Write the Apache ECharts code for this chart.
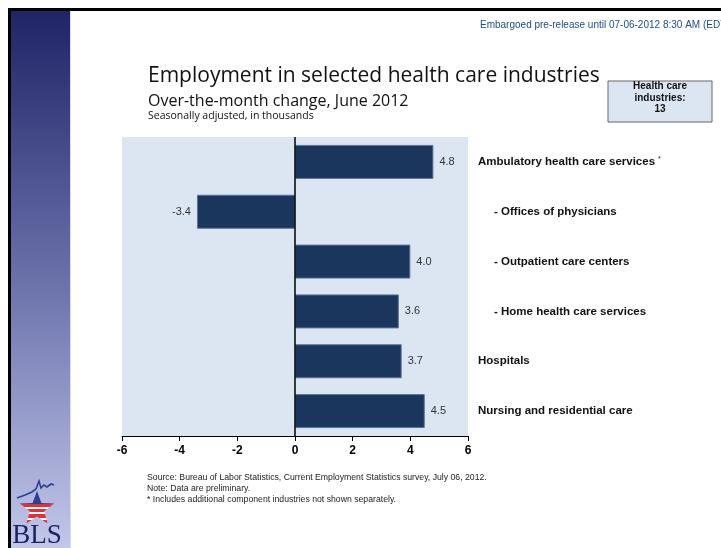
<!DOCTYPE html>
<html>
<head>
<meta charset="utf-8">
<script src="https://cdn.jsdelivr.net/npm/echarts@6/dist/echarts.min.js"></script>
<style>
html, body { margin: 0; padding: 0; background: #fff; }
#chart { width: 721px; height: 548px; }
</style>
</head>
<body>
<div id="chart"></div>
<script>
// categories, top to bottom
const categories = [
    'Ambulatory health care services',
    '- Offices of physicians',
    '- Outpatient care centers',
    '- Home health care services',
    'Hospitals',
    'Nursing and residential care'
]
const indented = [false, true, true, true, false, false]
const footnoted = [true, false, false, false, false, false]
// over-the-month change, thousands
const changes = [4.8, -3.4, 4.0, 3.6, 3.7, 4.5]
const xTicks = [-6, -4, -2, 0, 2, 4, 6]

const chart = echarts.init(document.getElementById('chart'))

// star for the logo
function starPoints (cx, cy, ro, ri) {
    const pts = []
    for (let i = 0; i < 10; i++) {
        const a = -Math.PI / 2 + i * Math.PI / 5
        const r = i % 2 === 0 ? ro : ri
        pts.push([cx + r * Math.cos(a), cy + r * Math.sin(a)])
    }
    return pts
}

const stripeStops = [
    { offset: 0, color: '#2b3f94' }, { offset: 0.4, color: '#2b3f94' },
    { offset: 0.4, color: '#e0303a' }, { offset: 0.5, color: '#e0303a' },
    { offset: 0.5, color: '#ffffff' }, { offset: 0.56, color: '#ffffff' },
    { offset: 0.56, color: '#e0303a' }, { offset: 0.66, color: '#e0303a' },
    { offset: 0.66, color: '#ffffff' }, { offset: 0.72, color: '#ffffff' },
    { offset: 0.72, color: '#e0303a' }, { offset: 0.82, color: '#e0303a' },
    { offset: 0.82, color: '#ffffff' }, { offset: 0.88, color: '#ffffff' },
    { offset: 0.88, color: '#e0303a' }, { offset: 1, color: '#e0303a' }
]

const labelFont = 'Liberation Sans, Arial, sans-serif'

const option = {
    animation: false,
    grid: {
        left: 122,
        right: 253,
        top: 137,
        bottom: 112,
        show: true,
        backgroundColor: '#dce6f2',
        borderWidth: 0
    },
    xAxis: {
        type: 'value',
        min: xTicks[0],
        max: xTicks[xTicks.length - 1],
        interval: 2,
        splitLine: { show: false },
        axisLine: { show: true, onZero: false, lineStyle: { color: '#000', width: 1 } },
        axisTick: { show: true, inside: false, length: 5, lineStyle: { color: '#000' } },
        axisLabel: {
            color: '#000',
            fontWeight: 'bold',
            fontSize: 12,
            fontFamily: labelFont,
            margin: 9
        }
    },
    yAxis: {
        type: 'category',
        inverse: true,
        position: 'right',
        data: categories,
        axisLine: { show: false },
        axisTick: { show: false },
        splitLine: { show: false },
        axisLabel: {
            margin: 10,
            align: 'left',
            formatter: function (value, idx) {
                let s = indented[idx] ? '{ind|' + value + '}' : '{b|' + value + '}'
                if (footnoted[idx]) s += '{sup|*}'
                return s
            },
            rich: {
                b: { fontWeight: 'bold', fontSize: 11.5, color: '#111', fontFamily: labelFont },
                ind: { fontWeight: 'bold', fontSize: 11.5, color: '#111', fontFamily: labelFont, padding: [0, 0, 0, 16] },
                sup: { fontSize: 7, color: '#111', verticalAlign: 'top', padding: [0, 0, 6, 3] }
            }
        }
    },
    series: [
        {
            type: 'bar',
            barWidth: 34,
            data: changes.map(v => ({
                value: v,
                label: { position: v < 0 ? 'left' : 'right' }
            })),
            itemStyle: { color: '#1b365d', borderColor: '#5b7399', borderWidth: 1 },
            label: {
                show: true,
                distance: 6,
                color: '#333',
                fontSize: 11,
                fontFamily: labelFont,
                formatter: p => p.value.toFixed(1)
            },
            markLine: {
                silent: true,
                symbol: 'none',
                label: { show: false },
                lineStyle: { color: '#000', width: 1.5, type: 'solid' },
                data: [{ xAxis: 0 }]
            }
        }
    ],
    graphic: [
        // frame
        { type: 'rect', shape: { x: 8, y: 8, width: 713, height: 3 }, style: { fill: '#000' } },
        { type: 'rect', shape: { x: 8, y: 8, width: 3, height: 540 }, style: { fill: '#000' } },
        // sidebar
        {
            type: 'rect',
            shape: { x: 11, y: 11, width: 59, height: 537 },
            style: {
                fill: new echarts.graphic.LinearGradient(0, 0, 0, 1, [
                    { offset: 0, color: '#1e2466' },
                    { offset: 0.5, color: '#6a71aa' },
                    { offset: 1, color: '#c3c7ea' }
                ])
            }
        },
        { type: 'rect', shape: { x: 70, y: 11, width: 1, height: 537 }, style: { fill: '#d8dcf0' } },
        // logo
        {
            type: 'polyline',
            shape: { points: [[17, 498], [25, 495], [32, 492], [36, 489], [39, 481], [41, 488], [44, 485], [47, 487], [51, 484], [54, 485]] },
            style: { stroke: '#2b3f94', lineWidth: 1.6, fill: null }
        },
        {
            type: 'polygon',
            shape: { points: starPoints(37, 509, 18, 7.5) },
            style: { fill: new echarts.graphic.LinearGradient(0, 0, 0, 1, stripeStops) }
        },
        {
            type: 'text',
            style: {
                x: 37, y: 536, text: 'BLS', align: 'center', verticalAlign: 'middle',
                font: '27px "Liberation Serif", "DejaVu Serif", serif', fill: '#1a2260'
            }
        },
        // embargo line
        {
            type: 'text',
            style: {
                x: 480, y: 25, text: 'Embargoed pre-release until 07-06-2012 8:30 AM (EDT)',
                verticalAlign: 'middle',
                font: '10px "Liberation Sans", Arial, sans-serif', fill: '#1f4a8a'
            }
        },
        // titles
        {
            type: 'text',
            style: {
                x: 148, y: 76, text: 'Employment in selected health care industries',
                verticalAlign: 'middle',
                font: '21px "Open Sans", sans-serif', fill: '#111'
            }
        },
        {
            type: 'text',
            style: {
                x: 148, y: 101, text: 'Over-the-month change, June 2012',
                verticalAlign: 'middle',
                font: '16px "Open Sans", sans-serif', fill: '#111'
            }
        },
        {
            type: 'text',
            style: {
                x: 148, y: 116, text: 'Seasonally adjusted, in thousands',
                verticalAlign: 'middle',
                font: '10.5px "Open Sans", sans-serif', fill: '#111'
            }
        },
        // total box
        {
            type: 'rect',
            shape: { x: 608, y: 81, width: 104, height: 41 },
            style: { fill: '#dce6f2', stroke: '#666', lineWidth: 1 }
        },
        {
            type: 'text',
            style: {
                x: 660, y: 98, text: 'Health care\nindustries:\n13',
                align: 'center', verticalAlign: 'middle', lineHeight: 11.5,
                font: 'bold 10px "Liberation Sans", Arial, sans-serif', fill: '#111'
            }
        },
        // notes
        {
            type: 'text',
            style: {
                x: 147, y: 472,
                text: 'Source: Bureau of Labor Statistics, Current Employment Statistics survey, July 06, 2012.\nNote: Data are preliminary.\n* Includes additional component industries not shown separately.',
                lineHeight: 11,
                font: '8.7px "Liberation Sans", Arial, sans-serif', fill: '#222'
            }
        }
    ]
}

chart.setOption(option)
</script>
</body>
</html>
